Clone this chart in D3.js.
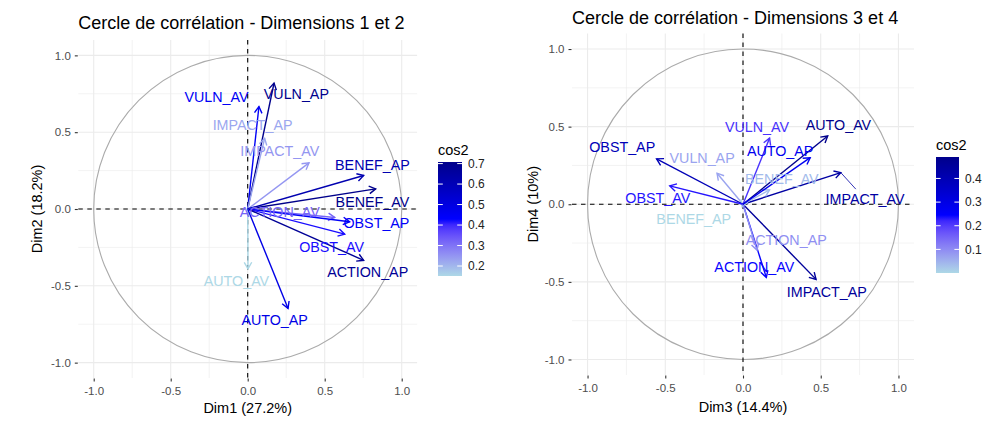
<!DOCTYPE html>
<html>
<head>
<meta charset="utf-8">
<script src="https://cdn.jsdelivr.net/npm/d3@7"></script>
<style>
  body { margin: 0; background: #fff; }
  svg { font-family: "Liberation Sans", Arial, Helvetica, sans-serif; }
</style>
</head>
<body>
<div id="chart"></div>
<script>
// variables of the PCA (same order in both panels)
var variables = ["VULN_AV", "VULN_AP", "IMPACT_AP", "IMPACT_AV", "BENEF_AP", "BENEF_AV",
                 "ACTION_AV", "OBST_AP", "OBST_AV", "ACTION_AP", "AUTO_AV", "AUTO_AP"];

// coordinates on dimensions 1 and 2
var dim1 = [0.073, 0.171, 0.110, 0.398, 0.753, 0.831, 0.565, 0.662, 0.630, 0.753, 0.002, 0.262];
var dim2 = [0.667, 0.820, 0.460, 0.300, 0.218, 0.131, -0.055, -0.083, -0.164, -0.334, -0.389, -0.647];

// coordinates on dimensions 3 and 4
var dim3 = [0.171, -0.167, 0.470, 0.629, -0.006, 0.171, 0.150, -0.556, -0.471, 0.090, 0.545, 0.432];
var dim4 = [0.426, 0.200, -0.484, 0.204, -0.015, 0.092, -0.471, 0.292, 0.118, -0.295, 0.440, 0.300];

// repelled label positions (data units) as they came out of ggrepel
var label12x = [-0.203, 0.316, 0.032, 0.208, 0.810, 0.810, 0.208, 0.836, 0.545, 0.779, -0.073, 0.175];
var label12y = [0.726, 0.748, 0.546, 0.380, 0.289, 0.046, -0.020, -0.092, -0.249, -0.411, -0.466, -0.723];
var label34x = [0.090, -0.263, 0.539, 0.785, -0.317, 0.250, 0.073, -0.777, -0.548, 0.278, 0.614, 0.239];
var label34y = [0.497, 0.297, -0.564, 0.032, -0.095, 0.163, -0.403, 0.372, 0.039, -0.230, 0.512, 0.346];

var axisTicks = [-1.0, -0.5, 0.0, 0.5, 1.0];
var minorTicks = [-0.75, -0.25, 0.25, 0.75];
var legendTicks12 = [0.2, 0.3, 0.4, 0.5, 0.6, 0.7];
var legendTicks34 = [0.1, 0.2, 0.3, 0.4];
var gradientCols = ["lightblue", "blue", "darkblue"];

var fmt = d3.formatLocale({ decimal: ".", thousands: ",", grouping: [3], currency: ["", ""], minus: "-" }).format(".1f");

var svg = d3.select("#chart").append("svg")
  .attr("width", 1004)
  .attr("height", 421);

var defs = svg.append("defs");

function drawPanel(cfg) {
  var x = d3.scaleLinear().domain([-1.1, 1.1]).range([cfg.left, cfg.right]);
  var y = d3.scaleLinear().domain([-1.1, 1.1]).range([cfg.bottom, cfg.top]);

  var rows = variables.map(function (name, i) {
    var vx = cfg.xs[i], vy = cfg.ys[i];
    return { name: name, x: vx, y: vy, lx: cfg.lxs[i], ly: cfg.lys[i], cos2: vx * vx + vy * vy };
  });

  var ext = d3.extent(rows, function (d) { return d.cos2; });
  var color = d3.scaleLinear()
    .domain([ext[0], (ext[0] + ext[1]) / 2, ext[1]])
    .range(gradientCols)
    .interpolate(d3.interpolateLab);

  var g = svg.append("g");

  // grid
  g.selectAll(".minorx").data(minorTicks).enter().append("line")
    .attr("x1", function (d) { return x(d); }).attr("x2", function (d) { return x(d); })
    .attr("y1", cfg.top).attr("y2", cfg.bottom)
    .attr("stroke", "#EBEBEB").attr("stroke-width", 0.6);
  g.selectAll(".minory").data(minorTicks).enter().append("line")
    .attr("y1", function (d) { return y(d); }).attr("y2", function (d) { return y(d); })
    .attr("x1", cfg.left).attr("x2", cfg.right)
    .attr("stroke", "#EBEBEB").attr("stroke-width", 0.6);
  g.selectAll(".majorx").data(axisTicks).enter().append("line")
    .attr("x1", function (d) { return x(d); }).attr("x2", function (d) { return x(d); })
    .attr("y1", cfg.top).attr("y2", cfg.bottom)
    .attr("stroke", "#EBEBEB").attr("stroke-width", 1.1);
  g.selectAll(".majory").data(axisTicks).enter().append("line")
    .attr("y1", function (d) { return y(d); }).attr("y2", function (d) { return y(d); })
    .attr("x1", cfg.left).attr("x2", cfg.right)
    .attr("stroke", "#EBEBEB").attr("stroke-width", 1.1);

  // correlation circle
  g.append("ellipse")
    .attr("cx", x(0)).attr("cy", y(0))
    .attr("rx", x(1) - x(0)).attr("ry", y(0) - y(1))
    .attr("fill", "none").attr("stroke", "#ABABAB").attr("stroke-width", 1.1);

  // dashed axes
  g.append("line")
    .attr("x1", cfg.left).attr("x2", cfg.right).attr("y1", y(0)).attr("y2", y(0))
    .attr("stroke", "#000").attr("stroke-width", 1.1).attr("stroke-dasharray", "4.5,4.5");
  g.append("line")
    .attr("x1", x(0)).attr("x2", x(0)).attr("y1", cfg.top).attr("y2", cfg.bottom)
    .attr("stroke", "#000").attr("stroke-width", 1.1).attr("stroke-dasharray", "4.5,4.5");

  // axes
  var xAxis = d3.axisBottom(x).tickValues(axisTicks).tickFormat(fmt).tickSize(3).tickPadding(5);
  var yAxis = d3.axisLeft(y).tickValues(axisTicks).tickFormat(fmt).tickSize(3).tickPadding(4);

  var gx = g.append("g").attr("transform", "translate(0," + (cfg.bottom + 0.5) + ")").call(xAxis);
  var gy = g.append("g").attr("transform", "translate(" + (cfg.left - 0.5) + ",0)").call(yAxis);
  [gx, gy].forEach(function (a) {
    a.select(".domain").remove();
    a.selectAll(".tick line").attr("stroke", "#333").attr("stroke-width", 1.1);
    a.selectAll(".tick text").attr("fill", "#4D4D4D").style("font-size", "11.5px")
      .style("font-family", "'Liberation Sans', Arial, sans-serif");
  });

  // arrows
  var head = 7.5, ang = Math.PI / 6;
  var arrows = g.selectAll(".arrow").data(rows).enter().append("g");
  arrows.append("line")
    .attr("x1", x(0)).attr("y1", y(0))
    .attr("x2", function (d) { return x(d.x); })
    .attr("y2", function (d) { return y(d.y); })
    .attr("stroke", function (d) { return color(d.cos2); })
    .attr("stroke-width", 1.4);
  arrows.append("path")
    .attr("d", function (d) {
      var tx = x(d.x), ty = y(d.y);
      var a = Math.atan2(ty - y(0), tx - x(0));
      var p1 = [tx - head * Math.cos(a - ang), ty - head * Math.sin(a - ang)];
      var p2 = [tx - head * Math.cos(a + ang), ty - head * Math.sin(a + ang)];
      return "M" + p1 + "L" + tx + "," + ty + "L" + p2;
    })
    .attr("fill", "none")
    .attr("stroke", function (d) { return color(d.cos2); })
    .attr("stroke-width", 1.4);

  // label connectors (ggrepel segments)
  rows.filter(function (d) { return cfg.connectors.indexOf(d.name) >= 0; }).forEach(function (d) {
    var tx = x(d.x), ty = y(d.y), lx = x(d.lx), ly = y(d.ly);
    var t = 0.62;
    g.append("line")
      .attr("x1", tx).attr("y1", ty)
      .attr("x2", tx + (lx - tx) * t).attr("y2", ty + (ly - ty) * t)
      .attr("stroke", color(d.cos2)).attr("stroke-width", 0.8);
  });

  // labels
  g.selectAll(".lab").data(rows).enter().append("text")
    .attr("x", function (d) { return x(d.lx); })
    .attr("y", function (d) { return y(d.ly); })
    .attr("dy", "0.35em")
    .attr("text-anchor", "middle")
    .attr("fill", function (d) { return color(d.cos2); })
    .style("font-size", "14.3px")
    .text(function (d) { return d.name; });

  // titles
  svg.append("text")
    .attr("x", cfg.left).attr("y", cfg.titleY)
    .style("font-size", "18px").attr("fill", "#000")
    .text(cfg.title);
  svg.append("text")
    .attr("x", x(0)).attr("y", cfg.xTitleY)
    .attr("text-anchor", "middle")
    .style("font-size", "14.5px").attr("fill", "#000")
    .text(cfg.xTitle);
  svg.append("text")
    .attr("transform", "translate(" + cfg.yTitleX + "," + y(0) + ") rotate(-90)")
    .attr("text-anchor", "middle")
    .style("font-size", "14.5px").attr("fill", "#000")
    .text(cfg.yTitle);

  // colour bar legend
  var lg = cfg.legend;
  var ly = d3.scaleLinear().domain(ext).range([lg.bottom, lg.top]);
  var gradId = "grad" + cfg.id;
  var grad = defs.append("linearGradient").attr("id", gradId)
    .attr("x1", "0").attr("x2", "0").attr("y1", "1").attr("y2", "0");
  d3.range(0, 1.0001, 0.05).forEach(function (t) {
    grad.append("stop").attr("offset", t)
      .attr("stop-color", color(ext[0] + t * (ext[1] - ext[0])));
  });
  svg.append("text")
    .attr("x", lg.x).attr("y", lg.titleY)
    .style("font-size", "14.5px").attr("fill", "#000")
    .text("cos2");
  svg.append("rect")
    .attr("x", lg.x).attr("y", lg.top)
    .attr("width", lg.w).attr("height", lg.bottom - lg.top)
    .attr("fill", "url(#" + gradId + ")");
  var tl = lg.w / 5;
  cfg.legendTicks.forEach(function (v) {
    var yy = ly(v);
    svg.append("line").attr("x1", lg.x).attr("x2", lg.x + tl).attr("y1", yy).attr("y2", yy)
      .attr("stroke", "#fff").attr("stroke-width", 1);
    svg.append("line").attr("x1", lg.x + lg.w - tl).attr("x2", lg.x + lg.w).attr("y1", yy).attr("y2", yy)
      .attr("stroke", "#fff").attr("stroke-width", 1);
    svg.append("text")
      .attr("x", lg.x + lg.w + 6).attr("y", yy).attr("dy", "0.35em")
      .style("font-size", "12px").attr("fill", "#222")
      .text(fmt(v));
  });
}

drawPanel({
  id: 12, left: 78.3, right: 417.1, top: 40, bottom: 378,
  xs: dim1, ys: dim2, lxs: label12x, lys: label12y,
  connectors: [],
  title: "Cercle de corrélation - Dimensions 1 et 2", titleY: 29,
  xTitle: "Dim1 (27.2%)", xTitleY: 413,
  yTitle: "Dim2 (18.2%)", yTitleX: 42,
  legend: { x: 438, w: 24, top: 162, bottom: 276, titleY: 155 },
  legendTicks: legendTicks12
});

drawPanel({
  id: 34, left: 572, right: 914, top: 33.5, bottom: 375,
  xs: dim3, ys: dim4, lxs: label34x, lys: label34y,
  connectors: ["IMPACT_AV"],
  title: "Cercle de corrélation - Dimensions 3 et 4", titleY: 24,
  xTitle: "Dim3 (14.4%)", xTitleY: 412,
  yTitle: "Dim4 (10%)", yTitleX: 538,
  legend: { x: 936, w: 23, top: 157, bottom: 273, titleY: 150 },
  legendTicks: legendTicks34
});
</script>
</body>
</html>
